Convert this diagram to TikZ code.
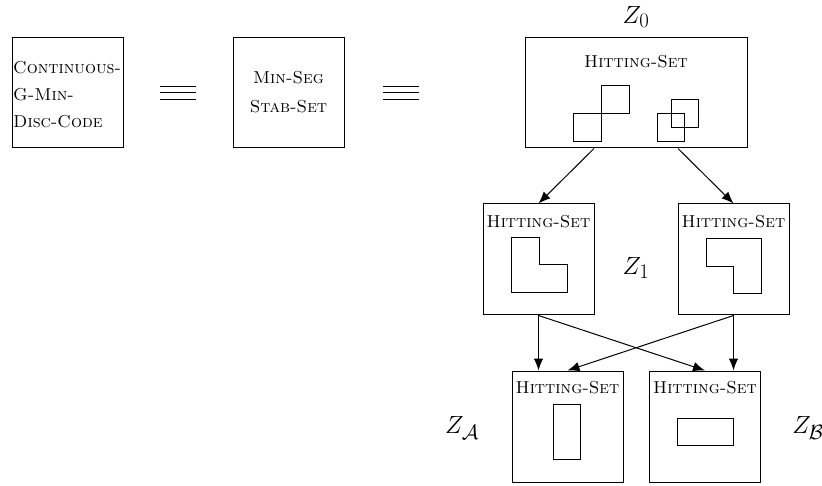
\documentclass[tikz,border=0pt]{standalone}
\usetikzlibrary{arrows.meta,calc}
\begin{document}
\begin{tikzpicture}[x=1pt,y=-1pt,
  box/.style={draw, line width=1pt, minimum width=111pt, minimum height=111pt, inner sep=0pt},
  lbl/.style={font=\fontsize{17.3}{27}\selectfont\scshape, inner sep=0pt},
  zl/.style={font=\fontsize{29}{34}\selectfont, inner sep=0pt},
  arr/.style={-{Latex[length=12pt,width=9.5pt]}, line width=1pt},
  shp/.style={draw, line width=1pt},
  eqv/.style={line width=1pt}]
\useasboundingbox (0,0) rectangle (822,486);
% left boxes
\node[box, minimum height=110pt] (cg) at (67.5,93) {};
\node[lbl, align=left, anchor=west] (cgt) at (13,94.5) {Continuous-\\G-Min-\\Disc-Code};
\node[box, minimum height=110pt] (ms) at (288.5,93) {};
\node[lbl, align=center, font=\fontsize{17.3}{29}\selectfont\scshape] (mst) at (288.5,92.5) {Min-Seg\\Stab-Set};
% equivalence signs
\coordinate (e1) at (178,93);
\coordinate (e2) at (400.5,93);
\foreach \e in {e1,e2}{
  \foreach \dy in {-6.5,0,6.5}{
    \draw[eqv] ($(\e)+(-18,\dy)$) -- ($(\e)+(18,\dy)$);
  }
}
% Z0
\node[box, minimum width=222pt, minimum height=110pt] (z0) at (636,93) {};
\node[lbl] (z0t) at (636,62) {Hitting-Set};
\node[zl] (z0l) at (636,17) {$Z_0$};
\draw[shp] (573,114) rectangle (601,142);
\draw[shp] (601,86) rectangle (629,114);
\draw[shp] (657,114) rectangle (684,142);
\draw[shp] (671,100) rectangle (698,128);
% Z1
\node[box] (z1l) at (538.5,259.5) {};
\node[box] (z1r) at (733.5,259.5) {};
\node[lbl] (z1lt) at (538.5,222) {Hitting-Set};
\node[lbl] (z1rt) at (733.5,222) {Hitting-Set};
\node[zl] (z1) at (636,268) {$Z_1$};
\draw[shp] (511,238) -- (539,238) -- (539,265) -- (567,265) -- (567,293) -- (511,293) -- cycle;
\draw[shp] (706,239) -- (761,239) -- (761,294) -- (733,294) -- (733,267) -- (706,267) -- cycle;
% bottom
\node[box] (za) at (567.5,426.5) {};
\node[box] (zb) at (705,426.5) {};
\node[lbl] (zat) at (567.5,388) {Hitting-Set};
\node[lbl] (zbt) at (705,388) {Hitting-Set};
\node[zl] (zal) at (462,428) {$Z_{\mathcal{A}}$};
\node[zl] (zbl) at (808,428) {$Z_{\mathcal{B}}$};
\draw[shp] (553,404) rectangle (580,459);
\draw[shp] (677,418) rectangle (733,445);
% arrows
\draw[arr] ($(z0.south)+(-42,0)$) -- (z1l.north);
\draw[arr] ($(z0.south)+(42,0)$) -- (z1r.north);
\draw[arr] (z1l.south) -- (z1l.south |- za.north);
\draw[arr] (z1l.south) -- (zb.north);
\draw[arr] (z1r.south) -- (za.north);
\draw[arr] (z1r.south) -- (z1r.south |- zb.north);
\end{tikzpicture}
\end{document}
